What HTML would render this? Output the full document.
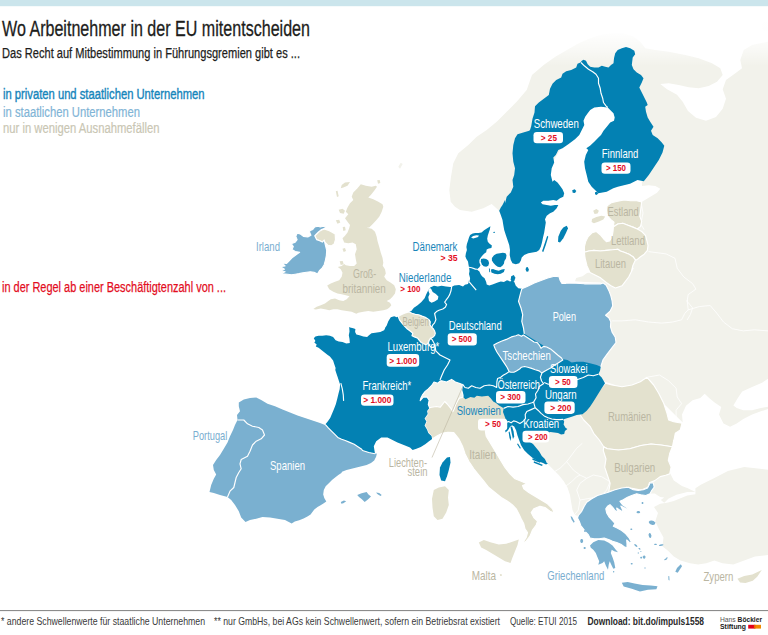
<!DOCTYPE html>
<html lang="de"><head><meta charset="utf-8"><title>Wo Arbeitnehmer in der EU mitentscheiden</title>
<style>html,body{margin:0;padding:0;background:#fff}svg{display:block}text{font-family:"Liberation Sans",sans-serif}</style>
</head><body>
<svg width="768" height="635" viewBox="0 0 768 635">
<defs><linearGradient id="fadeTop" x1="0" y1="0" x2="0" y2="1"><stop offset="0" stop-color="#fff" stop-opacity="1"/><stop offset="0.45" stop-color="#fff" stop-opacity="0.95"/><stop offset="0.75" stop-color="#fff" stop-opacity="0.5"/><stop offset="1" stop-color="#fff" stop-opacity="0"/></linearGradient></defs>
<rect width="768" height="635" fill="#fff"/>
<g id="map">
<path d="M498.3,210 L491.7,204 L483.3,208.3 L471.7,211.7 L460,210 L455,206.7 L450.7,201.7 L449.3,190 L451,176.7 L453.3,163.3 L458.3,153.3 L468.3,145 L476.7,136.7 L486.7,130 L496.7,121.7 L506.7,111.7 L516.7,101.7 L526.7,90 L532,75 L543.7,65 L555.3,56.7 L567,50 L578.7,43.3 L590.3,38.3 L600.3,35 L612,33.3 L623.7,33.3 L633.7,36.7 L640.3,41.7 L645.3,48.3 L655.3,50 L668.7,51.7 L685.3,55 L698.7,58.3 L712,63.3 L720.3,68.3 L722.7,75 L717,81.7 L708.7,86 L698.7,88.3 L688.7,87.3 L678.7,85 L668.7,83.3 L660.3,84 L667,89.3 L677,94.7 L682.7,101.7 L688,111 L696,117.7 L706,120.7 L716,117 L722.7,108.7 L726,98.7 L722.7,89.3 L726,80 L734.7,73.7 L742,68.3 L740.3,60 L743.7,50 L752,45 L768,41.7 L768,409 L768,409.1 L760.9,411.3 L752.1,414.6 L743.3,419 L736.7,423.5 L730.1,426.8 L723.5,423.5 L719,414.6 L721.3,406.9 L714.6,402.5 L709.1,398.1 L704.7,393.7 L700.3,398.1 L692.6,400.3 L686,405.8 L682,414.6 L682.7,422.4 L660,400 L600,380 L590,340 L605,283.8 L600,282.5 L585,282 L575,281.2 L576.2,278 L582.5,276.2 L587,273 L590,272.5 L610,260 L625,215 L640,203 L640.3,202.7 L648.7,197.7 L657,192.7 L660.3,188.7 L655.3,186 L648.7,185.3 L642,186 L640,150 L625,95 L605,85 L585,110 L560,150 L530,200 L512,230Z" fill="#f2f2eb"/>
<path d="M733.4,405.4 L737.8,398.1 L742.2,391.5 L752.1,387.1 L762,382.7 L769.8,377.6 L769.8,406.3 L760.9,408 L752.1,410.2 L743.3,410.2 L736.7,408Z" fill="#fff"/>
<path d="M761.3,24 L765.3,22 L768,22.7 L768,30.7 L762.7,30Z" fill="#f2f2eb"/>
<path d="M520,423 L533,446.7 L546.2,462.5 L552.5,468.8 L558.8,475 L563.8,481.2 L567.5,487.5 L570,495 L571.2,502.5 L572.5,510 L575,515 L580,516.7 L593.3,500 L620,490 L620,440 L593.3,410 L553.3,410Z" fill="#f2f2eb"/>
<path d="M646.7,480.6 L669.7,472.5 L673.8,480.6 L681.9,486 L687.8,488.2 L695.4,492 L687.3,492 L676.5,494.7 L668.3,498.8 L664.3,502.8 L660.8,500.1 L664.3,497.4 L660.2,496.9 L654.8,493.4 L650.7,493.4 L650.7,486Z" fill="#f2f2eb"/>
<path d="M695.4,488.2 L700.8,484.7 L714.4,477.9 L727.9,471.1 L744.2,467.1 L757.7,468.4 L768,469.8 L768,556 L768,555.1 L755,556.5 L744.2,560.5 L733.3,564.6 L722.5,563.2 L714.4,560.5 L706.3,563.2 L698.1,564.6 L690,563.2 L680.5,560.5 L673.8,556.5 L668.3,551.1 L662.4,546.2 L663.5,537.5 L659.1,529.4 L655.3,521.3 L658,513.1 L654,506.9 L660.2,503.7 L667,502.8 L673.8,500.9 L687.3,495.5 L695.4,494.2Z" fill="#f2f2eb"/>
<path d="M398.3,166.7 L400.7,162.7 L402.7,164 L400,168.7Z" fill="#f2f2eb"/>
<g id="fborders"><path d="M612.1,320.9 L622,320.9 L635.3,319.8 L648.5,322 L661.7,323.1 L672.8,322 L681.6,319.8 L684.9,313.2 L688.2,309.9" fill="none" stroke="#fff" stroke-width="1" stroke-opacity="0.8" stroke-linejoin="round"/><path d="M687.1,300 L688.2,309.9 L699.2,306.6 L710.2,305.5 L716.8,313.2 L723.5,322 L732.3,328.7 L743.3,330.9 L754.3,329.8 L768,330.9" fill="none" stroke="#fff" stroke-width="1" stroke-opacity="0.8" stroke-linejoin="round"/><path d="M647.4,377.2 L659.5,375 L668.3,380.5 L676.1,388.2 L677.2,397 L681.6,403.6 L676.1,410.2 L676.1,423.5" fill="none" stroke="#fff" stroke-width="1" stroke-opacity="0.8" stroke-linejoin="round"/><path d="M648.5,251.6 L666.1,253.9 L675,258.3 L677.2,268.2 L683.8,277 L692.6,283.6 L695.9,289.1 L688.2,294.6 L687.1,301.3 L692.6,307.9 L690.4,314.5 L687.1,320" fill="none" stroke="#fff" stroke-width="1" stroke-opacity="0.8" stroke-linejoin="round"/><path d="M641.9,193.2 L640.8,200.9 L643,213.1 L640.8,224.1 L644.1,229.6" fill="none" stroke="#fff" stroke-width="1" stroke-opacity="0.8" stroke-linejoin="round"/><path d="M551.7,473.3 L560,468.3 L566.7,461.7 L571.7,455 L576.7,448.3 L582.3,443.3" fill="none" stroke="#fff" stroke-width="1" stroke-opacity="0.8" stroke-linejoin="round"/><path d="M566.7,461.7 L573.3,470 L580,475 L586.7,478.3 L593.3,475 L601.7,476.7 L610,481.7" fill="none" stroke="#fff" stroke-width="1" stroke-opacity="0.8" stroke-linejoin="round"/><path d="M565,486.7 L571.7,481.7 L576.7,476.7 L580,475" fill="none" stroke="#fff" stroke-width="1" stroke-opacity="0.8" stroke-linejoin="round"/><path d="M571.7,518.3 L578.3,510 L580,500 L576.7,490 L580,483.3 L586.7,478.3" fill="none" stroke="#fff" stroke-width="1" stroke-opacity="0.8" stroke-linejoin="round"/><path d="M580,500 L590,498.3 L600,496.7 L606.7,490 L610,481.7" fill="none" stroke="#fff" stroke-width="1" stroke-opacity="0.8" stroke-linejoin="round"/></g><rect x="0" y="6" width="768" height="60" fill="url(#fadeTop)"/>
<path d="M360.8,184.2 L365.8,185.8 L371.7,186.7 L375.8,185.8 L377,186.7 L374.2,190.8 L370.8,195 L368.3,197.5 L373.3,199.2 L378.3,201.7 L382.5,204.2 L383.3,206.7 L381.7,211.7 L379.2,216.7 L375.8,220.8 L372.5,224.2 L369.2,227.5 L366.7,227.8 L371.7,228.7 L375,231.7 L376.7,236.7 L377.5,241 L379.2,246.8 L380.8,252.7 L382.5,257.7 L383.3,262.7 L382.7,265.7 L385,269.3 L385.8,273.5 L384.2,276.8 L386.7,280.2 L390.8,282.7 L394.2,285.2 L395.8,289.3 L395,293.5 L392.5,296.8 L390,299.3 L386.7,301 L390,302.7 L391.3,305.2 L389.2,307.7 L387,309.3 L383.3,310.2 L378.3,311 L373.3,311.8 L368.3,311 L363.3,311.8 L358.3,312.7 L356.3,313.8 L351.7,311.8 L346.7,311 L341.7,310.2 L337.5,309.3 L333.3,309.3 L329.2,310.2 L325,309.3 L320.8,308.5 L315.8,309.5 L313.3,309 L316.7,306.8 L320.8,305.2 L325,303.5 L328.3,301 L330.8,299.3 L335,298.5 L339.2,300.2 L343.3,301 L346.7,299.3 L349.5,296.3 L345.8,295.2 L341.7,294.3 L337.5,293.5 L333.3,291.8 L329.2,289.3 L327.2,285.5 L330.8,283.5 L335,281.8 L339.2,280.2 L341.7,276.8 L342.5,272.7 L340.8,269.3 L337.8,267 L341.7,266 L344.2,264 L345.8,265.2 L350,266 L354.2,266 L356.7,263.5 L355.8,259.3 L355,254.3 L356.7,249.3 L355.8,244.3 L352.5,242.5 L348.3,243.3 L344.2,242.5 L342.5,238.3 L345,235.8 L347.5,232.5 L349.2,228.3 L350,225 L347.5,221.7 L345,218.3 L348.3,214.2 L345.8,211.7 L347.5,207.5 L350,203.3 L353.3,200 L351.7,196.7 L353.3,192.5 L357.5,188.3Z" fill="#e3e1ce"/>
<path d="M350,182 L347.5,185.8 L343.3,187.5 L340.8,188.3 L341.7,185 L345,182.5Z" fill="#e3e1ce"/>
<path d="M335.8,191.3 L337.5,190.8 L338.7,196.3 L337,197Z" fill="#e3e1ce"/>
<path d="M338.7,209.7 L342.5,208.7 L345,210.8 L343.7,213.7 L340,213Z" fill="#e3e1ce"/>
<path d="M335.8,220.3 L339.2,219.7 L340.3,222.5 L337.5,223.7Z" fill="#e3e1ce"/>
<path d="M342.7,227 L345,226.7 L345.7,230.3 L343.3,231Z" fill="#e3e1ce"/>
<path d="M377.2,180.3 L379.7,180 L380.3,183 L378,183.7Z" fill="#e3e1ce"/>
<path d="M342.5,248.7 L345,248 L346,251 L343.7,252Z" fill="#e3e1ce"/>
<path d="M339.7,261.3 L342.7,261 L343.7,264.3 L340.7,265Z" fill="#e3e1ce"/>
<path d="M314.7,235.8 L318.5,232 L321,230.1 L324.2,228.9 L327.9,230.1 L331.7,232 L335.2,234.1 L335.5,239.6 L334.2,244 L331.1,245.9 L327.9,245.2 L324.8,242.1 L324.2,240.2 L322.3,242.1 L319.7,240.8 L316.6,239.6Z" fill="#e3e1ce" stroke="#fff" stroke-width="1.15" stroke-linejoin="round"/>
<path d="M432.1,439 L431.5,436.1 L428.3,433 L427.1,429.8 L424.6,425.4 L426.4,421.6 L424.6,418.5 L427.7,414.1 L427.1,410.9 L429.6,407.8 L430.2,404 L437.8,401.5 L450.4,401.5 L459.2,395.2 L465.5,395.2 L475.6,393.9 L488.2,393.9 L496,400.2 L500,402 L506,408 L509,415 L507.5,422 L504,421 L498,423 L492,425 L487,428 L485.4,431.3 L486.2,436.2 L490,442.5 L493.8,448.8 L497.5,455 L501.2,461.2 L505,467.5 L510,473.8 L515,478.8 L521.2,481.2 L527,483.8 L522.5,485.5 L523.8,488.8 L528.8,492.5 L535,496.2 L541.2,500 L547.5,503.8 L552.5,508.8 L554.2,513 L550,511.2 L545,507.5 L540,506.2 L533.8,508.8 L531.2,512.5 L533.8,517.5 L537.5,521.2 L536.2,525 L532.5,530 L530,536.2 L526.2,541.2 L520.5,544.5 L523.8,541.2 L526.2,537.5 L527.5,532.5 L525,528.8 L523.8,523.8 L521.2,518.8 L518.8,513.8 L516.2,508.8 L512.5,505 L507.5,501.2 L501.2,497.5 L495,492.5 L488.8,487.5 L483.8,481.2 L478.8,475 L473.8,468.8 L468.8,461.2 L465,453.8 L462.5,446.2 L458.8,438.8 L453.8,432.5 L447.9,432.3 L442.8,433 L437.8,435.5Z" fill="#e3e1ce" stroke="#fff" stroke-width="1.15" stroke-linejoin="round"/>
<path d="M478.8,542.5 L483.8,540 L491.2,542.5 L498.8,544.5 L506.2,543.8 L513.8,541.2 L518.8,539.5 L517.5,545 L515,551.2 L512.5,557.5 L510.5,563 L505,561.2 L498.8,557.5 L492.5,553.8 L486.2,550 L481.2,547.5Z" fill="#e3e1ce"/>
<path d="M433.8,490 L438.8,487.5 L445,486.2 L448.8,490 L448,497.5 L448.8,505 L446.2,512.5 L442.5,518.8 L437.5,520 L433.8,516.2 L432.5,507.5 L432,498.8Z" fill="#e3e1ce"/>
<path d="M499.8,574.2 L501.5,574 L502,575.8 L500.2,576Z" fill="#e3e1ce"/>
<path d="M607.1,205.7 L611.5,202.6 L617.8,201.3 L624.1,200 L630.4,200.7 L636.7,200.7 L641.7,201.9 L641.1,206.3 L640.5,211.4 L639.8,216.4 L641.7,221.4 L640.5,226.5 L637.3,229 L632.9,227.1 L627.9,225.2 L622.8,223.3 L617.8,224 L614,226.5 L613.4,226.5 L614,222.1 L610.9,219.6 L608.3,217 L607.1,213.9 L606.4,210.1Z" fill="#e3e1ce" stroke="#fff" stroke-width="1.15" stroke-linejoin="round"/>
<path d="M613.4,226.5 L614,226.5 L617.8,224 L622.8,223.3 L627.9,225.2 L632.9,227.1 L637.3,229 L641.7,231.5 L645.5,235.3 L646.8,240.3 L648,245.4 L647.4,250.4 L644.2,254.2 L640.5,256.7 L636.7,259.9 L635.4,259.9 L632.9,256.7 L629.1,254.2 L624.1,252.3 L620.3,251 L617.8,249.2 L612.7,249.8 L606.4,250.4 L600.2,251 L593.9,250.4 L588.8,251 L584.4,252.3 L584.4,246.6 L585.7,241.6 L588.2,236.6 L592,232.8 L596.4,231.5 L600.2,234.7 L603.3,238.5 L606.4,241.6 L609.6,241 L612.1,236.6 L613,231.5Z" fill="#e3e1ce" stroke="#fff" stroke-width="1.15" stroke-linejoin="round"/>
<path d="M584.4,252.3 L588.8,251 L593.9,250.4 L600.2,251 L606.4,250.4 L612.7,249.8 L617.8,249.2 L620.3,251 L624.1,252.3 L629.1,254.2 L632.9,256.7 L635.4,259.9 L632.9,265.5 L631.6,270.6 L633.1,268.2 L628.7,277 L622,285.8 L615.4,288 L611,285.8 L606.25,282.5 L600,277.5 L595,275 L590,272.5 L587,266 L585,258Z" fill="#e3e1ce" stroke="#fff" stroke-width="1.15" stroke-linejoin="round"/>
<path d="M593.2,210.7 L596.4,209.1 L598.9,210.7 L597.6,213.6 L594.5,213.9Z" fill="#e3e1ce"/>
<path d="M592,218.9 L596.4,217 L601.4,215.8 L605.2,216.4 L603.3,219.6 L598.9,221.4 L593.9,223.3 L591.6,222.1Z" fill="#e3e1ce"/>
<path d="M605.3,383.3 L612,385 L622,386.7 L632,385 L640.3,381.7 L647,377.3 L653.7,385 L658.7,393.3 L663.7,403.3 L667,413.3 L668.7,420 L673.7,421.7 L682,423.3 L680.3,430 L675.3,433.3 L673.7,441.7 L673.7,448.3 L672.2,446.8 L661,445 L651,444 L641,445.5 L629.8,448.8 L618.5,450 L607.2,448.8 L603.7,446.7 L599.3,440 L593.7,433.3 L590.3,426.7 L583.7,420 L580.3,415 L587,406.7 L593.7,396.7 L599.3,390Z" fill="#e3e1ce" stroke="#fff" stroke-width="1.15" stroke-linejoin="round"/>
<path d="M603.7,446.7 L607.2,448.8 L618.5,450 L629.8,448.8 L641,445.5 L651,444 L661,445 L672.2,446.8 L673.7,448.3 L673.8,440 L672.4,446.8 L669.7,453.5 L668.3,460.3 L671.1,467.1 L669.7,473.9 L665.6,475.2 L660.2,476.6 L654.8,480.6 L649.4,482.8 L648,487.4 L641.3,490.1 L634.5,488.8 L626.4,487.4 L618.2,490.1 L608.8,491.5 L610.1,483.3 L607.4,475.2 L604.7,467.1 L606,459 L603.3,450.8Z" fill="#e3e1ce" stroke="#fff" stroke-width="1.15" stroke-linejoin="round"/>
<path d="M737.4,578.7 L744.2,576 L752.3,574.6 L761.8,570 L757.2,576.8 L752.8,580.8 L745.5,583 L740.1,582.5Z" fill="#e3e1ce"/>
<path d="M309.7,230.7 L312.8,229.5 L314.7,227 L317.9,226.1 L320.4,227 L322.9,226.3 L326,227 L324.2,228.6 L321,229.9 L318.5,232 L316,234.5 L314.7,235.8 L316.6,239.6 L319.7,240.8 L322.3,242.1 L324.2,240.2 L325.4,245.2 L326.7,250.3 L326.4,255.3 L325.4,260.3 L324.2,264.7 L322.3,267.9 L319.7,270.4 L317.6,273.9 L314.1,272.3 L310.3,271.7 L306.5,272.3 L302.7,272.9 L299,273.6 L295.2,274.2 L291.4,274.8 L287.6,274.2 L280.7,273.6 L285.1,271.7 L280.3,270.4 L284.5,269.2 L280.1,266.6 L285.1,266 L282,262.9 L286.4,263.5 L288.9,261 L292.7,257.2 L297.1,254 L299.6,252.2 L295.2,251.5 L292,249.6 L293.3,246.5 L291.2,243.7 L295.2,242.1 L297.1,239.6 L295.8,236.4 L297.1,233.3 L300.2,233.9 L303.4,236.4 L307.8,237 L310.9,235.2 L309.7,232.6Z" fill="#7ab0d0" stroke="#fff" stroke-width="1.15" stroke-linejoin="round"/>
<path d="M238.8,402.5 L243.8,399.5 L250,398 L256.2,397.5 L261.2,400 L267.5,403.8 L275,406.2 L282.5,409.5 L290,412.5 L297.5,415.5 L305,418 L312.5,420.5 L320,423 L325,425 L325.2,424.4 L328.3,427.9 L331.5,431.1 L334.6,434.2 L337.8,437.4 L341.6,439.3 L345.3,440.5 L349.7,442.4 L354.2,444.3 L357.9,446.8 L361.7,449.3 L362.5,450.5 L368.8,452.5 L375,453.8 L376.9,453.6 L376.1,456.7 L374.2,460.5 L371,463 L366.6,464.9 L361.6,466.2 L356.5,467.4 L351.5,468.7 L346.5,469.9 L342,471.8 L341.4,473.1 L338.3,475 L335.1,477.5 L332,480 L328.8,483.2 L325.7,486.3 L323.8,490.1 L323.2,494.5 L324.4,498.3 L326.3,501.4 L323.8,503.3 L320.6,505.2 L317.5,507.1 L314.3,509.6 L312.4,512.1 L310.6,514.6 L307.4,516.5 L303.6,518.4 L299.2,520.3 L294.8,521.6 L291.7,523.5 L285,520 L277.5,518.8 L270,517.5 L262.5,517 L256.2,518.8 L250,520 L245.5,522 L241.2,517.5 L238.8,511.2 L235,505 L231.2,500 L227.5,497 L220,495 L213.8,493 L209.5,492 L211.2,485 L213.8,478.8 L216.2,474.5 L213.8,470 L213,465 L216.2,460 L220,455 L223.8,448.8 L227.5,442.5 L230,436.2 L233,430 L235,425 L237.5,420 L237,415 L240,411.2 L238.8,406.2Z" fill="#7ab0d0"/>
<path d="M357.2,495.1 L361.6,493.2 L366.6,492 L368.5,494.5 L371,496.4 L367.9,499.5 L364.7,502 L361.6,498.9 L359,497Z" fill="#7ab0d0"/>
<path d="M376.1,492.6 L379.2,492.9 L381.7,495.1 L380.5,496.1 L377.3,494.1Z" fill="#7ab0d0"/>
<path d="M340.8,502 L343.9,500.4 L346.2,501.2 L343.3,503.3 L341.4,503.7Z" fill="#7ab0d0"/>
<path d="M521.8,288.8 L527.7,286.3 L534.3,283 L541,280.5 L547.7,278 L554.3,276.3 L559,276.7 L560.2,280.5 L561.8,283.3 L566,283.3 L569.3,283 L576,283.3 L584.3,283.8 L592.7,283.8 L601,283.8 L603,282.9 L606.2,285.2 L608.8,290.4 L610.8,295.6 L612.1,300.8 L612.7,306 L610.1,311.2 L605.6,315.2 L608.8,317.8 L610.8,321.7 L610.5,326.9 L612.1,332.1 L615.3,337.3 L616,342.5 L612.1,347.7 L607.5,353.6 L603,359.9 L600.3,368.3 L592,373.3 L562,370 L532,356.7 L512,340 L512,300Z" fill="#7ab0d0" stroke="#fff" stroke-width="1.15" stroke-linejoin="round"/>
<path d="M578.3,515.5 L581.7,511.3 L584.2,506.3 L586.7,502.2 L591.7,498.8 L597.5,495.5 L603.3,493.8 L608.3,492.2 L615,489.7 L621.7,488 L628.3,487.2 L633.3,489.7 L638.3,490.5 L643.3,489.7 L647.5,488 L649.2,484.7 L650,482.7 L653.3,483 L654.2,487.2 L651.7,490.5 L650,493.8 L645.8,495.5 L640.8,494.7 L636.7,493.8 L631.7,495.5 L627.5,497.2 L623.3,499.7 L620,501.3 L622.5,504.7 L627.5,508 L628.3,509.7 L624.2,507.7 L620.8,506 L622.5,509.7 L623.3,512.2 L619.2,509.7 L616.7,508 L617.5,511.3 L618.3,513 L615,510.5 L612.5,507.2 L610,504.7 L607.5,506.3 L605.8,508.8 L606.7,513 L609.2,517.2 L612.5,520.5 L615,523.3 L613.3,526.3 L616.7,527.7 L621.7,530.5 L625.8,533.8 L629.2,538 L631.7,542.7 L629.2,542.2 L626.7,540 L627,543.8 L627,548 L624.2,546.7 L620.8,544.2 L616.7,542.5 L612.5,541.3 L609.2,539.7 L604.2,538 L599.2,538.8 L594.2,538.8 L590,538 L588.3,534.7 L585.8,532.2 L583.3,528.8 L580.8,525.5 L579.2,521.3 L577.5,518Z" fill="#7ab0d0" stroke="#fff" stroke-width="1.15" stroke-linejoin="round"/>
<path d="M590,545.5 L593.3,542.2 L598.3,540 L604.2,540.5 L608.7,542.7 L612.5,545.5 L615.8,549.7 L618,552.2 L614.2,551.3 L611.7,549.7 L610.8,553 L612.5,557.2 L614.2,562.2 L615.3,568 L613.3,568.8 L611.3,564.7 L609.7,561.3 L608.7,564.7 L608,569.7 L605.8,565.5 L604.2,561.3 L602.5,563 L598.3,564.7 L599.2,561.3 L597.5,557.2 L595.8,553 L593.3,549.7 L590.8,547.7Z" fill="#7ab0d0"/>
<path d="M621.8,582.7 L627.7,581.9 L634.5,583.6 L642.6,584.9 L650.7,585.4 L657.5,586.3 L656.4,589.2 L648,589.8 L639.9,591.4 L631.8,588.7 L623.7,586.5Z" fill="#7ab0d0"/>
<path d="M570.5,516.3 L572,516.7 L574.7,521.7 L573.7,522.7 L571.7,519.7Z" fill="#7ab0d0"/>
<path d="M586,531 L585.8,531.6 L585.3,532 L584.7,532 L584.2,531.6 L584,531 L584.2,530.4 L584.7,530 L585.3,530 L585.8,530.4Z" fill="#7ab0d0"/>
<path d="M583.2,541 L582.9,542.2 L582.1,542.9 L581.2,542.9 L580.5,542.2 L580.2,541 L580.5,539.8 L581.2,539.1 L582.1,539.1 L582.9,539.8Z" fill="#7ab0d0"/>
<path d="M585.8,548 L585.6,548.6 L585,549 L584.3,549 L583.7,548.6 L583.5,548 L583.7,547.4 L584.3,547 L585,547 L585.6,547.4Z" fill="#7ab0d0"/>
<path d="M643.5,503 L643.3,503.6 L642.8,504 L642.2,504 L641.7,503.6 L641.5,503 L641.7,502.4 L642.2,502 L642.8,502 L643.3,502.4Z" fill="#7ab0d0"/>
<path d="M640.2,512.2 L639.8,512.9 L638.9,513.3 L637.8,513.3 L636.9,512.9 L636.5,512.2 L636.9,511.5 L637.8,511.1 L638.9,511.1 L639.8,511.5Z" fill="#7ab0d0"/>
<path d="M655.2,523.7 L654.2,524.7 L652.4,524.9 L650.4,524.3 L649,523.1 L648.8,521.7 L649.8,520.7 L651.6,520.4 L653.6,521 L655,522.2Z" fill="#7ab0d0"/>
<path d="M651.3,535.2 L651.3,536.7 L650.9,537.7 L650.1,537.9 L649.2,537.2 L648.7,535.8 L648.7,534.3 L649.1,533.3 L649.9,533.1 L650.8,533.8Z" fill="#7ab0d0"/>
<path d="M663.5,544.7 L663.1,545.3 L662,545.8 L660.6,546.1 L659.4,546 L658.9,545.6 L659.2,545.1 L660.3,544.5 L661.7,544.2 L662.9,544.3Z" fill="#7ab0d0"/>
<path d="M657,544.3 L656.7,544.7 L656,545 L655,545 L654.3,544.7 L654,544.3 L654.3,543.9 L655,543.7 L656,543.7 L656.7,543.9Z" fill="#7ab0d0"/>
<path d="M667.4,558.3 L667.3,558.8 L666.6,559.5 L665.6,560 L664.7,560.2 L664.2,560 L664.3,559.5 L665,558.9 L666,558.3 L666.9,558.1Z" fill="#7ab0d0"/>
<path d="M680.8,564.3 L682,566.3 L677.7,572.7 L675.3,571.7 L677,568Z" fill="#7ab0d0"/>
<path d="M668.3,576 L669.3,576.3 L669.5,580.5 L668.5,580Z" fill="#7ab0d0"/>
<path d="M632.3,529.2 L632.1,529.7 L631.6,530 L631,530 L630.5,529.7 L630.3,529.2 L630.5,528.7 L631,528.4 L631.6,528.4 L632.1,528.7Z" fill="#7ab0d0"/>
<path d="M637.4,546.8 L636.8,546.9 L635.8,546.5 L634.9,545.7 L634.3,544.8 L634.3,544.2 L634.9,544.1 L635.9,544.5 L636.8,545.3 L637.4,546.2Z" fill="#7ab0d0"/>
<path d="M640.4,549.6 L640,549.7 L639.4,549.6 L638.8,549.1 L638.5,548.5 L638.6,548.1 L639,547.9 L639.6,548.1 L640.2,548.6 L640.5,549.1Z" fill="#7ab0d0"/>
<path d="M645.5,557.2 L645.2,558.1 L644.6,558.8 L643.8,558.8 L643.1,558.1 L642.8,557.2 L643.1,556.2 L643.8,555.6 L644.6,555.6 L645.2,556.2Z" fill="#7ab0d0"/>
<path d="M642.2,557.7 L642,558.3 L641.5,558.6 L640.9,558.6 L640.4,558.3 L640.2,557.7 L640.4,557.1 L640.9,556.7 L641.5,556.7 L642,557.1Z" fill="#7ab0d0"/>
<path d="M632.7,563.8 L632.5,564.3 L632,564.6 L631.4,564.6 L630.9,564.3 L630.7,563.8 L630.9,563.3 L631.4,563 L632,563 L632.5,563.3Z" fill="#7ab0d0"/>
<path d="M645.7,568 L645.5,568.4 L645.2,568.6 L644.8,568.6 L644.5,568.4 L644.3,568 L644.5,567.6 L644.8,567.4 L645.2,567.4 L645.5,567.6Z" fill="#7ab0d0"/>
<path d="M614.3,571.8 L614.2,572.3 L613.9,572.6 L613.5,572.6 L613.1,572.3 L613,571.8 L613.1,571.3 L613.5,571 L613.9,571 L614.2,571.3Z" fill="#7ab0d0"/>
<path d="M641.5,551.3 L641.4,551.6 L641,551.8 L640.6,551.8 L640.3,551.6 L640.2,551.3 L640.3,551 L640.6,550.9 L641,550.9 L641.4,551Z" fill="#7ab0d0"/>
<path d="M639,553 L638.9,553.4 L638.5,553.6 L638.1,553.6 L637.8,553.4 L637.7,553 L637.8,552.6 L638.1,552.4 L638.5,552.4 L638.9,552.6Z" fill="#7ab0d0"/>
<path d="M667.7,557.7 L667.5,558 L667.2,558.1 L666.8,558.1 L666.5,558 L666.3,557.7 L666.5,557.4 L666.8,557.2 L667.2,557.2 L667.5,557.4Z" fill="#7ab0d0"/>
<path d="M580.5,62.5 L577.5,63.8 L576.2,67.5 L571.2,70 L566.2,71.2 L562.5,73.8 L561.2,77.5 L556.2,80 L552.5,83.8 L550,88.8 L548.8,95 L543.8,98.8 L538.8,102.5 L535,106.2 L534.5,112.5 L532.5,118.8 L531.2,126.2 L530,130 L529.2,130.8 L523.3,132.5 L517.5,134.2 L515,138.3 L513.3,145 L512.5,153.3 L513.3,161.7 L515,168.3 L514.2,175 L512.5,180 L513.3,186.7 L510.8,192.5 L506.7,196.7 L505,203.3 L505,200 L502.5,205 L500.8,207.5 L499.2,210.8 L500.8,215 L502.5,220 L503.3,225 L504.2,230 L505.8,235 L507.5,240 L509.2,245 L510,250 L509.7,255 L510.8,260 L512.5,263.3 L515.8,264.2 L519.2,263.3 L520.8,260.8 L521.7,257.5 L524.2,255 L528.3,253.3 L532.5,252.5 L536.7,251.7 L539.2,250 L540.8,246.7 L542,242.5 L543,237.5 L544.2,232.5 L545,227.5 L545.8,222.5 L545,219.2 L546.7,215.8 L550,213.3 L553.3,211.7 L556.7,208.3 L558.3,205 L555,205 L550.8,205.8 L546.7,205 L542.5,204.2 L540.8,202.5 L543.3,200.8 L548.3,200.8 L553.3,200 L556.7,200.8 L560,198.3 L563.3,196.7 L564.2,193.3 L562.5,189.2 L560,185.8 L557.5,182.5 L554.2,180 L552.5,181.7 L550.8,175 L551.7,168.3 L554.2,162.5 L553.3,157.5 L555.8,155 L558.3,150 L562.5,148.3 L568.3,144.2 L575,139.2 L579.3,135 L581.8,130 L584.3,125 L583.5,120.8 L585.2,116.7 L587.7,113.3 L590.2,110 L594.3,107.5 L601,106.7 L607.7,107.5 L610.2,110 L613.5,113.3 L614.7,117.5 L614,120.8 L610.2,122.5 L606.8,126.7 L603.5,130.8 L601,135 L597.7,138.3 L594.3,141.7 L590,145.8 L586.3,148.3 L588.3,150 L585.8,155 L584.2,161.7 L585,168.3 L586.7,175 L588.3,181.7 L591.7,186.7 L595.8,190.8 L598.3,193.3 L606.7,191.7 L613.3,188.3 L617.8,186.7 L630,183.75 L637.5,180 L643.8,181.2 L648.8,175 L653.8,167.5 L658.8,160 L662.5,152.5 L664.3,145.8 L661.8,142.5 L657.7,138.3 L652.7,135 L651,130.8 L653.5,126.7 L650.2,121.7 L647.7,117.5 L646,111.7 L645.2,106.7 L647.7,105 L646.8,102.5 L644.3,97.5 L641.8,92.5 L639.3,87.5 L641.8,82.5 L643.5,78.3 L641,75 L636.8,72.5 L633.5,69.2 L631.8,65 L632.7,57.5 L635.2,54.2 L634.3,50.8 L630.2,48.3 L626,47 L621.8,48.3 L617.7,50 L615.2,53.3 L614,58.3 L613.5,63.3 L611,65 L608.5,67.5 L605.2,66.7 L601.8,65.8 L598.5,67.5 L594.3,67.5 L590.2,66.7 L587.7,64.2 L586,60.8 L583.5,59.7 L581.8,60.8 L581,61.8Z" fill="#0381b3"/>
<path d="M547.2,235.8 L548.3,236.7 L545.8,245 L543.3,252 L542,251.3 L544.7,243.3Z" fill="#0381b3"/>
<path d="M566.7,225.8 L568,228.3 L565.8,233.3 L563.3,238.3 L560,242.5 L558,241.7 L558.3,236.7 L560.8,230.8 L563.3,227.5Z" fill="#0381b3"/>
<path d="M572.2,190.3 L574.7,189.3 L576.3,191 L575,193 L572.7,192.7Z" fill="#0381b3"/>
<path d="M595,192.3 L597,191.7 L598.3,193.3 L596.7,195 L595,194.3Z" fill="#0381b3"/>
<path d="M481,259 L483.6,258.5 L486.2,259 L488.3,260.5 L489.1,263.1 L488.3,265.8 L486.2,266.8 L483.6,266.3 L481.8,264.2 L480.8,261.6Z" fill="#0381b3"/>
<path d="M491.9,257.9 L494,255.3 L496.6,253.8 L499.8,253.2 L502.9,252.7 L505.5,253.2 L506.5,255.3 L506,258.5 L504.4,261.1 L503.9,263.7 L502.4,265.8 L500.3,267.3 L497.7,266.8 L495.6,265.2 L493.5,263.1 L491.9,260.5Z" fill="#0381b3"/>
<path d="M490.9,269.4 L493,268.9 L495.6,270.1 L498.7,270.8 L501.8,269.4 L504.8,268.9 L503.9,272 L500.8,273.8 L497.7,274.3 L494.5,273.8 L491.4,272.5Z" fill="#0381b3"/>
<path d="M488.9,268.4 L489.8,268.5 L490.2,272 L489.3,272.2Z" fill="#0381b3"/>
<path d="M493.3,231.9 L494.8,231.7 L495,232.8 L493.5,233Z" fill="#0381b3"/>
<path d="M511.2,276.2 L513.8,275.1 L515.4,277.7 L514.3,280.9 L511.7,281.9 L510.7,279.3Z" fill="#0381b3"/>
<path d="M526,267.4 L527.7,267 L528.9,269.4 L528.3,271.6 L526.6,271.8 L525.6,269.7Z" fill="#0381b3"/>
<path d="M385,328.5 L384.1,330.2 L380.3,332 L375.3,332.7 L371.5,333.3 L369,335.2 L367.1,337.1 L363.3,336.4 L359.5,335.2 L356.4,334.6 L355.1,332 L355.4,328.9 L353.2,328.3 L350.1,327.6 L349.2,326.9 L349.5,331.4 L348.8,335.2 L349.5,339 L349.8,343 L346.3,343.4 L342.5,342.1 L338.7,341.5 L335.6,340.2 L333.1,337.1 L329.9,335.8 L326.2,335.2 L322.4,335.8 L318.6,335.8 L315.4,336.4 L313.8,338.3 L315.4,340.9 L314.3,342.5 L316.7,344.6 L315.8,346.5 L318.6,347.8 L321.7,350.3 L324.9,352.8 L327.4,354.7 L329.9,356.6 L333.1,360.4 L334.3,364.2 L335.6,367.9 L335.3,370 L336.5,373.8 L337.8,377.6 L339,381.3 L340.1,384.5 L339.7,388.9 L338.4,393.9 L337.2,399 L335.9,404 L334,409 L332.1,413.5 L330.2,417.9 L327.7,421.6 L325.2,424.4 L328.3,427.9 L331.5,431.1 L334.6,434.2 L337.8,437.4 L341.6,439.3 L345.3,440.5 L349.7,442.4 L354.2,444.3 L357.9,446.8 L361.7,449.3 L362.5,450.5 L368.8,452.5 L375,453.8 L373.8,446.2 L376.2,441.2 L381.2,437.5 L387.5,437.5 L392.5,440 L397.5,442.5 L403.8,445 L410,447.5 L412.6,450 L416.4,448.7 L420.8,447.1 L425.2,444.3 L429,441.2 L432.1,439 L431.5,436.1 L428.3,433 L427.1,429.8 L424.6,425.4 L426.4,421.6 L424.6,418.5 L427.7,414.1 L427.1,410.9 L429.6,407.8 L435,400 L450,395 L461,392 L463,395.2 L463,397.1 L465.5,399.2 L470.5,397.1 L474.3,397.7 L476.8,395.8 L481.9,396.4 L488.2,395.8 L490.7,398.3 L493.2,401.5 L496,403 L499,405.5 L502.5,407.5 L503.6,408.4 L503,412 L504.5,416 L506,420 L506.5,422 L506.8,422.8 L504.9,427.8 L505.5,432.5 L508,430.2 L509.9,427.1 L512,425.2 L514.2,426.5 L516.1,430.2 L517.4,435.2 L519.2,440.2 L521.1,445.2 L524.2,450.2 L528,454 L532.4,457.8 L538,461.2 L543,463 L546,464.5 L548,463.5 L546.8,463 L544.9,459 L541.8,455.9 L539.2,451.5 L536.1,447.8 L533,444 L529.2,441.5 L529,437.1 L531.8,434.2 L538,433.8 L544.2,433.2 L550.5,432.1 L554.2,432.4 L558,433 L561.1,434.6 L564.2,434 L564.9,430.9 L567.4,429 L565.5,427.8 L563.6,424.6 L564.2,421.5 L563,419.4 L571.7,416.7 L576.7,415 L582.5,414.2 L586.7,410.8 L590,406.7 L593.3,401.7 L597.5,395 L601.7,388.3 L605,383.3 L601.7,377.5 L598.3,374.2 L600,370.8 L600.8,366.7 L596.7,365 L590,363.3 L583.3,361.7 L576.7,361.7 L571.7,362.5 L567.5,360 L563.3,359.2 L545.3,346.7 L524.3,333.8 L523.5,328 L521.8,321.3 L522.7,314.7 L521,308 L518.5,301.3 L520.2,294.7 L521.8,288.8 L518.3,288.3 L515.8,285.8 L514.2,281.7 L512.2,280.3 L510.2,281.4 L507,280.3 L503.9,281.9 L500.8,281.4 L497.7,282.4 L495.1,283.5 L492.5,284.5 L489.3,285.5 L486.7,284.5 L486.2,281.9 L484.6,278.2 L482,276.2 L480.5,274.1 L479.4,271.5 L476.8,269.4 L477.9,268.4 L479.4,267.3 L480.5,265.2 L479.4,262.6 L479.4,260 L480.5,257.9 L482,255.9 L484.1,253.8 L486.2,252.2 L486.7,249.6 L488.8,248.6 L491.4,248 L491.9,245.4 L489.3,243.4 L487.8,241.8 L487.2,238.7 L487.8,235.5 L488.8,232.4 L489.9,229.3 L490.4,226.2 L487.2,228.2 L484.1,230.3 L481.5,232.4 L478.4,232.9 L475.3,232.9 L472.7,233.5 L470.1,235 L469,237.6 L468,240.8 L466.9,243.9 L466.4,247 L466.9,250.1 L465.9,253.2 L465.4,256.4 L466.4,259 L468,261.6 L468.5,264.7 L469,267.3 L469.5,271 L469,274.1 L470.1,278.2 L469.5,282.4 L469,280.1 L468.6,282.6 L468,283.9 L464.9,284.7 L463,286.6 L459.2,285.1 L454.2,285.4 L451.6,287 L450.4,287 L446,286.4 L441.6,285.7 L437.8,286.4 L434,285.7 L430.2,287.6 L428.3,290.2 L426.4,293.9 L424.6,298.3 L421.4,302.1 L417.6,305.3 L413.9,307.8 L411.3,310.9 L398.25,316.5 L396.7,317.2 L394.2,316.3 L390.8,317.2 L388.3,321.3 L386.7,325.5 L385,328Z" fill="#0381b3"/>
<path d="M430,287.9 L431.2,288.9 L432.7,292 L435.9,293.9 L438.4,296.4 L437.8,299.6 L434.6,301.5 L431.5,302.7 L429,300.9 L428.3,297.1 L429.6,293.9 L428.3,290.8 L428.7,288.9Z" fill="#fff"/>
<path d="M471.1,237.6 L473.2,236.1 L476.3,235.3 L478.9,235.5 L478.1,237.1 L475.8,237.8 L473.2,238.5Z" fill="#fff"/>
<path d="M447,457.5 L450,457 L450.5,462.5 L448.8,470 L447,476.2 L445,481.2 L441.2,480.5 L439.5,475 L440,467.5 L442.5,462.5Z" fill="#0381b3"/>
<path d="M510.5,427.1 L512,426.5 L513.6,431.5 L514.2,436.5 L513,439 L511.8,434Z" fill="#0381b3"/>
<path d="M508.6,432.1 L509.6,431.5 L511.1,437.8 L510.5,440.9 L509.5,437.8Z" fill="#0381b3"/>
<path d="M517,444 L518,443.5 L520.8,448 L520,448.8Z" fill="#0381b3"/>
<path d="M532.7,458.3 L540.7,461.3 L540,462.7 L532.3,459.7Z" fill="#0381b3"/>
<path d="M534,461.3 L542.7,464.7 L542,466 L533.7,462.7Z" fill="#0381b3"/>
<path d="M440.1,381.1 L437.8,383.2 L434,382 L431.5,385.7 L428.3,388.9 L425.2,391.4 L422.7,394.6 L420.8,398.3 L420.2,400.6 L423.3,397.1 L427.1,397.1 L429.2,400.2 L428.3,404.6 L429.6,407.8 L431.5,407.2 L436.5,406.5 L440.3,407.2 L442.8,404 L444.7,401.5 L447.2,404 L450.4,407.8 L452.9,411.6 L454.2,409 L455.4,405.3 L457.3,401.5 L459.2,398.3 L463,397.1 L463,395.2 L461.7,390.2 L462.3,384.5 L459.2,383.2 L455.4,382 L451.6,379.4 L446.6,382 L441.6,380.7Z" fill="#f2f2eb" stroke="#fff" stroke-width="1.15" stroke-linejoin="round"/>
<path d="M398.2,316.5 L401.2,314.8 L404.5,313.2 L408.7,311.9 L412,313.2 L415.3,314.4 L418.7,314.8 L422,316.1 L425.3,317.3 L428.7,319.4 L430.3,321.9 L429.9,324.8 L431.6,327.3 L433.2,328.6 L434.5,330.7 L435.3,333.2 L434.5,335.7 L432.8,337.3 L430.8,338.2 L429.5,339.8 L428.7,341.9 L427.4,344 L425.3,344.6 L423.2,343.6 L421.2,342.5 L419.5,340.7 L417.8,338.3 L414.5,336.9 L412,335.7 L412.8,333.2 L410.8,331.5 L407.4,329 L404.5,326.1 L402,323.2 L399.5,319.8Z" fill="#e3e1ce" stroke="#fff" stroke-width="1.15" stroke-linejoin="round"/>
<path d="M493.8,345.1 L496.9,343.2 L501.3,341.3 L506.4,339.4 L511.4,336.9 L515.8,335.7 L518.3,334.8 L521.5,336.3 L523.4,335 L526.5,336.9 L530.3,339.4 L534.1,342 L537.2,342.6 L539.7,345.7 L541,348.3 L543.5,346.4 L546.7,347 L550.5,348.9 L554.2,352 L558,355.2 L561.2,357.7 L562.8,360 L560.5,361.5 L557.4,363.4 L554.2,365.3 L551.1,367.8 L547.3,369.7 L544.2,371.6 L541.9,373.1 L539.1,370.9 L535.3,369.7 L531.6,368.4 L527.8,367.2 L524.6,366.5 L521.5,367.2 L519.6,369 L516.4,370.9 L513.9,372.2 L510.8,372.2 L509.1,371.6 L507,367.2 L504.5,363.4 L502,359.6 L499.4,355.8 L496.9,352 L495,348.3Z" fill="#7ab0d0" stroke="#fff" stroke-width="1.15" stroke-linejoin="round"/>
<path d="M430.8,338.2 L432.2,339.8 L433.5,342.3 L434.9,344.8 L433.7,347.3 L431.2,347.3 L429.1,345.2 L428.5,342.8 L429.3,340.2Z" fill="#0381b3" stroke="#fff" stroke-width="1.15" stroke-linejoin="round"/>
<g id="borders"><path d="M581,62.5 L584.3,65.8 L588.5,69.2 L592.7,71.7 L596,74.2 L598.5,78.3 L598.5,83.3 L600.2,88.3 L601,93.3 L602.7,98.3 L603.5,102.5 L606,105.8 L607.7,107.5" fill="none" stroke="#fff" stroke-width="1.15" stroke-linejoin="round"/><path d="M237.5,420 L243.8,420 L247.5,423.8 L252.5,426.2 L258.8,427.5 L262.5,430 L264.5,435 L261.2,438.8 L256.2,441.2 L252.5,445 L250,451.2 L247.5,456.2 L241.2,459.5 L240,463.8 L241.2,468.8 L238.8,472.5 L236.2,477.5 L235,482.5 L233.8,487.5 L230,491.2 L227.5,497" fill="none" stroke="#fff" stroke-width="1.15" stroke-linejoin="round"/><path d="M325.2,424.4 L328.3,427.9 L331.5,431.1 L334.6,434.2 L337.8,437.4 L341.6,439.3 L345.3,440.5 L349.7,442.4 L354.2,444.3 L357.9,446.8 L361.7,449.3 L362.5,450.5 L368.8,452.5 L375,453.8" fill="none" stroke="#fff" stroke-width="1.15" stroke-linejoin="round"/><path d="M340.8,383.2 L342.3,388.9 L343.3,395.2 L343.6,400.9" fill="none" stroke="#fff" stroke-width="1.15" stroke-linejoin="round"/><path d="M469,267.3 L471.6,267.8 L474.8,268.9 L476.8,269.4" fill="none" stroke="#fff" stroke-width="1.15" stroke-linejoin="round"/><path d="M451.6,287 L451,290.8 L449.7,294.6 L447.9,297.7 L446,300.2 L444.7,302.1 L446.6,304.6 L445.3,307.2 L442.8,309 L439,310.3 L436.5,311.6 L434.6,313.5 L435.3,316.6 L435.9,319.7 L434.6,322.9 L432.8,324.8 L431.8,327.3" fill="none" stroke="#fff" stroke-width="1.15" stroke-linejoin="round"/><path d="M469,281.6 L472.4,285.7 L476.2,290.2" fill="none" stroke="#fff" stroke-width="1.15" stroke-linejoin="round"/><path d="M434.9,344.8 L435.8,350.8 L440,355 L445,357.5 L450,360 L447.5,365 L444.2,370 L441.7,375.8 L440,380" fill="none" stroke="#fff" stroke-width="1.15" stroke-linejoin="round"/><path d="M462.5,384.2 L465,387.5 L468.3,388.3 L471.7,385.8 L475.8,387.5 L480,388.3 L484.2,385.8 L489.2,385 L493.3,385.8 L496.7,387.5 L496.9,381.6 L497.6,378.5 L500.7,377.2 L503.2,375.3 L506.4,373.5 L509.1,371.6" fill="none" stroke="#fff" stroke-width="1.15" stroke-linejoin="round"/><path d="M503.6,408.4 L508,406.5 L513,407.1 L518,406.5 L523,404.6 L528,404 L531.8,402.8 L533.6,402.1 L536.1,397.8 L535.5,394 L538,390.2 L539.2,386.5 L543,384 L543.5,383.5 L541.6,381 L540.4,377.2 L541.9,373.1" fill="none" stroke="#fff" stroke-width="1.15" stroke-linejoin="round"/><path d="M544.2,382.5 L548.3,384.2 L553.3,383.3 L563.3,382.5 L573.3,380.8 L578.3,379.2 L583.3,377.5 L588.3,375 L593.3,375.8 L598.3,374.2" fill="none" stroke="#fff" stroke-width="1.15" stroke-linejoin="round"/><path d="M533.6,402.1 L535.2,407.8 L538,410.2 L541.1,413.4 L544.2,415.9 L548,417.8 L551.8,419 L556.1,419.6 L559.9,419.6 L563,419.4" fill="none" stroke="#fff" stroke-width="1.15" stroke-linejoin="round"/><path d="M535.2,407.8 L531.1,409.6 L526.8,411.5 L525.2,414.6 L525.5,418.4 L523,421.5 L519.9,423.4 L516.1,421.5 L513.6,420.9 L511.1,422.8 L508.6,421.5 L506.8,422.1" fill="none" stroke="#fff" stroke-width="1.15" stroke-linejoin="round"/><path d="M521.8,288.8 L520.2,294.7 L518.5,301.3 L521,308 L522.7,314.7 L521.8,321.3 L523.5,328 L524.3,333.8" fill="none" stroke="#fff" stroke-width="1.15" stroke-linejoin="round"/></g>
</g>
<rect x="0" y="0" width="768" height="6.2" fill="#cbe5ec"/>
<text x="2" y="36.4" fill="#1d1d1b" font-size="21.8" font-weight="normal" textLength="308" lengthAdjust="spacingAndGlyphs" stroke="#1d1d1b" stroke-width="0.3">Wo Arbeitnehmer in der EU mitentscheiden</text>
<text x="2" y="58.2" fill="#1d1d1b" font-size="14.7" font-weight="normal" textLength="298" lengthAdjust="spacingAndGlyphs" stroke="#1d1d1b" stroke-width="0.25">Das Recht auf Mitbestimmung in Führungsgremien gibt es ...</text>
<text x="3" y="99.2" fill="#1585bb" font-size="15.1" font-weight="normal" textLength="201.5" lengthAdjust="spacingAndGlyphs" stroke="#1585bb" stroke-width="0.4">in privaten und staatlichen Unternehmen</text>
<text x="3" y="116.6" fill="#80b4d6" font-size="15.1" font-weight="normal" textLength="137" lengthAdjust="spacingAndGlyphs" stroke="#80b4d6" stroke-width="0.2">in staatlichen Unternehmen</text>
<text x="3" y="133.4" fill="#c9c6b3" font-size="15.1" font-weight="normal" textLength="156.5" lengthAdjust="spacingAndGlyphs" stroke="#c9c6b3" stroke-width="0.2">nur in wenigen Ausnahmefällen</text>
<text x="2" y="292.4" fill="#e30d1e" font-size="15.1" font-weight="normal" textLength="224" lengthAdjust="spacingAndGlyphs" stroke="#e30d1e" stroke-width="0.25">in der Regel ab einer Beschäftigtenzahl von ...</text>
<text x="533.8" y="128.4" fill="#fff" font-size="12.6" font-weight="normal" textLength="45" lengthAdjust="spacingAndGlyphs">Schweden</text>
<rect x="533.5" y="131.9" width="29.5" height="11.4" rx="3.3" ry="3.3" fill="#fff"/>
<text x="540.8" y="140.6" fill="#e30d1e" font-size="8.9" font-weight="bold" textLength="16.2" lengthAdjust="spacingAndGlyphs">&gt; 25</text>
<text x="601.8" y="158.4" fill="#fff" font-size="12.6" font-weight="normal" textLength="36.5" lengthAdjust="spacingAndGlyphs">Finnland</text>
<rect x="601.5" y="162.4" width="29" height="11.4" rx="3.3" ry="3.3" fill="#fff"/>
<text x="606" y="171" fill="#e30d1e" font-size="8.9" font-weight="bold" textLength="20" lengthAdjust="spacingAndGlyphs">&gt; 150</text>
<text x="412.5" y="251.4" fill="#1a86ba" font-size="12.6" font-weight="normal" textLength="45" lengthAdjust="spacingAndGlyphs">Dänemark</text>
<text x="440.5" y="261" fill="#e30d1e" font-size="8.9" font-weight="bold" textLength="17" lengthAdjust="spacingAndGlyphs">&gt; 35</text>
<text x="398.8" y="282.2" fill="#1a86ba" font-size="12.6" font-weight="normal" textLength="52.5" lengthAdjust="spacingAndGlyphs">Niederlande</text>
<text x="400.3" y="291.8" fill="#e30d1e" font-size="8.9" font-weight="bold" textLength="20.2" lengthAdjust="spacingAndGlyphs">&gt; 100</text>
<text x="448.8" y="329.7" fill="#fff" font-size="12.6" font-weight="normal" textLength="52.9" lengthAdjust="spacingAndGlyphs">Deutschland</text>
<rect x="447.7" y="333.2" width="29.1" height="12.4" rx="3.3" ry="3.3" fill="#fff"/>
<text x="451.7" y="342.2" fill="#e30d1e" font-size="8.9" font-weight="bold" textLength="20.3" lengthAdjust="spacingAndGlyphs">&gt; 500</text>
<text x="387.5" y="351.2" fill="#fff" font-size="12.6" font-weight="normal" textLength="51.7" lengthAdjust="spacingAndGlyphs">Luxemburg*</text>
<rect x="386.7" y="354.1" width="32.5" height="12.7" rx="3.3" ry="3.3" fill="#fff"/>
<text x="389.2" y="363.6" fill="#e30d1e" font-size="8.9" font-weight="bold" textLength="27.8" lengthAdjust="spacingAndGlyphs">&gt; 1.000</text>
<text x="362.5" y="390.4" fill="#fff" font-size="12.6" font-weight="normal" textLength="48.8" lengthAdjust="spacingAndGlyphs">Frankreich*</text>
<rect x="361" y="394.4" width="32.5" height="11.4" rx="3.3" ry="3.3" fill="#fff"/>
<text x="363.3" y="403.2" fill="#e30d1e" font-size="8.9" font-weight="bold" textLength="28" lengthAdjust="spacingAndGlyphs">&gt; 1.000</text>
<text x="502.5" y="359.6" fill="#fff" font-size="12.6" font-weight="normal" textLength="48.3" lengthAdjust="spacingAndGlyphs">Tschechien</text>
<text x="550" y="373.2" fill="#fff" font-size="12.6" font-weight="normal" textLength="37.5" lengthAdjust="spacingAndGlyphs">Slowakei</text>
<rect x="548.9" y="376.1" width="28.6" height="12" rx="3.3" ry="3.3" fill="#fff"/>
<text x="555" y="385" fill="#e30d1e" font-size="8.9" font-weight="bold" textLength="15.8" lengthAdjust="spacingAndGlyphs">&gt; 50</text>
<text x="497.5" y="388.7" fill="#fff" font-size="12.6" font-weight="normal" textLength="42.5" lengthAdjust="spacingAndGlyphs">Österreich</text>
<rect x="496" y="391.1" width="29.5" height="12.5" rx="3.3" ry="3.3" fill="#fff"/>
<text x="500.3" y="400.3" fill="#e30d1e" font-size="8.9" font-weight="bold" textLength="20.5" lengthAdjust="spacingAndGlyphs">&gt; 300</text>
<text x="545" y="399.1" fill="#fff" font-size="12.6" font-weight="normal" textLength="31.7" lengthAdjust="spacingAndGlyphs">Ungarn</text>
<rect x="544.4" y="401.4" width="30.3" height="12.5" rx="3.3" ry="3.3" fill="#fff"/>
<text x="550.3" y="410.8" fill="#e30d1e" font-size="8.9" font-weight="bold" textLength="21" lengthAdjust="spacingAndGlyphs">&gt; 200</text>
<text x="523.3" y="428.2" fill="#fff" font-size="12.6" font-weight="normal" textLength="35.9" lengthAdjust="spacingAndGlyphs">Kroatien</text>
<rect x="522.5" y="430.7" width="26.7" height="11.9" rx="3.3" ry="3.3" fill="#fff"/>
<text x="528" y="439.5" fill="#e30d1e" font-size="8.9" font-weight="bold" textLength="19.5" lengthAdjust="spacingAndGlyphs">&gt; 200</text>
<text x="456.7" y="415.1" fill="#1a86ba" font-size="12.6" font-weight="normal" textLength="44.1" lengthAdjust="spacingAndGlyphs">Slowenien</text>
<rect x="478" y="418.7" width="29.2" height="11.9" rx="3.3" ry="3.3" fill="#fff"/>
<text x="485" y="427.3" fill="#e30d1e" font-size="8.9" font-weight="bold" textLength="16" lengthAdjust="spacingAndGlyphs">&gt; 50</text>
<text x="552.7" y="321.4" fill="#fff" font-size="12.6" font-weight="normal" textLength="23.3" lengthAdjust="spacingAndGlyphs">Polen</text>
<text x="270" y="470.4" fill="#fff" font-size="12.6" font-weight="normal" textLength="35" lengthAdjust="spacingAndGlyphs">Spanien</text>
<text x="192.7" y="439.7" fill="#7aaed0" font-size="12.6" font-weight="normal" textLength="34.6" lengthAdjust="spacingAndGlyphs">Portugal</text>
<text x="256" y="251.4" fill="#7aaed0" font-size="12.6" font-weight="normal" textLength="24" lengthAdjust="spacingAndGlyphs">Irland</text>
<text x="547.3" y="579.7" fill="#7aaed0" font-size="12.6" font-weight="normal" textLength="57" lengthAdjust="spacingAndGlyphs">Griechenland</text>
<text x="353" y="278.4" fill="#bab6a2" font-size="12.6" font-weight="normal" textLength="23.3" lengthAdjust="spacingAndGlyphs">Groß-</text>
<text x="342.5" y="292.9" fill="#bab6a2" font-size="12.6" font-weight="normal" textLength="43.3" lengthAdjust="spacingAndGlyphs">britannien</text>
<text x="402.6" y="325.8" fill="#bab6a2" font-size="12.6" font-weight="normal" textLength="26.2" lengthAdjust="spacingAndGlyphs">Belgien</text>
<text x="607.5" y="215.9" fill="#bab6a2" font-size="12.6" font-weight="normal" textLength="31.3" lengthAdjust="spacingAndGlyphs">Estland</text>
<text x="611" y="245.4" fill="#bab6a2" font-size="12.6" font-weight="normal" textLength="34" lengthAdjust="spacingAndGlyphs">Lettland</text>
<text x="595" y="267.9" fill="#bab6a2" font-size="12.6" font-weight="normal" textLength="31" lengthAdjust="spacingAndGlyphs">Litauen</text>
<text x="608" y="421.1" fill="#bab6a2" font-size="12.6" font-weight="normal" textLength="43.3" lengthAdjust="spacingAndGlyphs">Rumänien</text>
<text x="614.2" y="472.4" fill="#bab6a2" font-size="12.6" font-weight="normal" textLength="41.1" lengthAdjust="spacingAndGlyphs">Bulgarien</text>
<text x="469.3" y="459.4" fill="#bab6a2" font-size="12.6" font-weight="normal" textLength="26.7" lengthAdjust="spacingAndGlyphs">Italien</text>
<text x="471.7" y="579.7" fill="#bab6a2" font-size="12.6" font-weight="normal" textLength="24.3" lengthAdjust="spacingAndGlyphs">Malta</text>
<text x="703.5" y="580.7" fill="#bab6a2" font-size="12.6" font-weight="normal" textLength="29.8" lengthAdjust="spacingAndGlyphs">Zypern</text>
<text x="388.8" y="466.7" fill="#bab6a2" font-size="12.6" font-weight="normal" textLength="38.2" lengthAdjust="spacingAndGlyphs">Liechten-</text>
<text x="407.5" y="475.9" fill="#bab6a2" font-size="12.6" font-weight="normal" textLength="20" lengthAdjust="spacingAndGlyphs">stein</text>
<line x1="432" y1="457.5" x2="462.3" y2="387.6" stroke="#bcb6a0" stroke-width="0.6"/>
<rect x="0" y="610" width="768" height="1.1" fill="#8c8c8c"/>
<text x="1" y="624.9" fill="#3a3a3a" font-size="10.9" font-weight="normal" textLength="204" lengthAdjust="spacingAndGlyphs">* andere Schwellenwerte für staatliche Unternehmen</text>
<text x="214" y="624.9" fill="#3a3a3a" font-size="10.9" font-weight="normal" textLength="286" lengthAdjust="spacingAndGlyphs">** nur GmbHs, bei AGs kein Schwellenwert, sofern ein Betriebsrat existiert</text>
<text x="510" y="624.9" fill="#3a3a3a" font-size="10.9" font-weight="normal" textLength="67" lengthAdjust="spacingAndGlyphs">Quelle: ETUI 2015</text>
<text x="587.5" y="624.9" fill="#2a2a2a" font-size="10.9" font-weight="bold" textLength="116.5" lengthAdjust="spacingAndGlyphs">Download: bit.do/impuls1558</text>
<text x="720" y="621.6" fill="#555" font-size="6.6" font-weight="normal" textLength="15.7" lengthAdjust="spacingAndGlyphs">Hans</text>
<text x="737.6" y="621.6" fill="#1a1a1a" font-size="6.6" font-weight="bold" textLength="24.4" lengthAdjust="spacingAndGlyphs">Böckler</text>
<text x="720" y="628.8" fill="#1a1a1a" font-size="7" font-weight="bold" textLength="26" lengthAdjust="spacingAndGlyphs">Stiftung</text>
<rect x="748.2" y="624.8" width="6.5" height="3.8" fill="#e2001a"/><rect x="754.5" y="624.8" width="6.5" height="3.8" fill="#f08a00"/><rect x="753.9" y="624.8" width="1.6" height="3.8" fill="#ec5e0a"/>
</svg>
</body></html>
